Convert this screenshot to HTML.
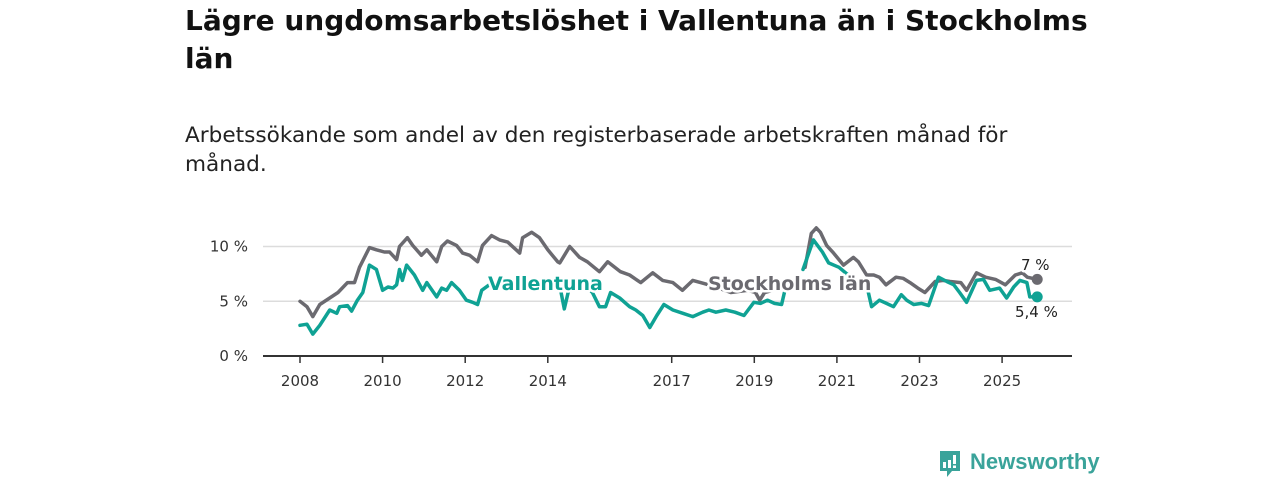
<!DOCTYPE html>
<html><head><meta charset="utf-8">
<style>
body{margin:0;width:1280px;height:480px;background:#fff;font-family:"DejaVu Sans","Liberation Sans",sans-serif;overflow:hidden;position:relative}
h1{position:absolute;left:185px;top:2px;margin:0;font-size:28px;line-height:38px;font-weight:bold;color:#111;white-space:nowrap}
.sub{position:absolute;left:185px;top:121px;font-size:21.6px;line-height:29px;color:#222;white-space:nowrap}
svg{position:absolute;left:0;top:0}
</style></head><body>
<h1>Lägre ungdomsarbetslöshet i Vallentuna än i Stockholms<br>län</h1>
<div class="sub">Arbetssökande som andel av den registerbaserade arbetskraften månad för<br>månad.</div>
<svg id="chart" width="1280" height="480"></svg>
<script>
const sthlmX=[2008.0,2008.17,2008.31,2008.48,2008.72,2008.92,2009.15,2009.32,2009.44,2009.68,2009.85,2010.04,2010.17,2010.34,2010.41,2010.6,2010.73,2010.94,2011.07,2011.31,2011.43,2011.57,2011.79,2011.94,2012.11,2012.3,2012.42,2012.64,2012.83,2013.03,2013.32,2013.39,2013.61,2013.8,2014.0,2014.24,2014.29,2014.53,2014.77,2014.96,2015.25,2015.45,2015.76,2015.98,2016.25,2016.54,2016.78,2017.03,2017.26,2017.51,2017.7,2017.99,2018.43,2018.84,2019.03,2019.13,2019.25,2019.45];
const sthlmV=[5.0,4.5,3.6,4.7,5.3,5.8,6.7,6.7,8.1,9.9,9.7,9.5,9.5,8.8,10.0,10.8,10.1,9.2,9.7,8.6,10.0,10.5,10.1,9.4,9.2,8.6,10.1,11.0,10.6,10.4,9.4,10.8,11.3,10.8,9.7,8.6,8.5,10.0,9.0,8.6,7.7,8.6,7.7,7.4,6.7,7.6,6.9,6.7,6.0,6.9,6.7,6.4,5.8,6.0,5.8,5.1,5.8,6.0];
const sthlmX2=[2020.23,2020.38,2020.5,2020.6,2020.75,2020.92,2021.16,2021.4,2021.52,2021.72,2021.89,2022.03,2022.19,2022.43,2022.6,2022.77,2022.96,2023.13,2023.38,2023.57,2023.74,2024.0,2024.14,2024.38,2024.6,2024.84,2025.08,2025.32,2025.49,2025.61,2025.85];
const sthlmV2=[8.1,11.2,11.7,11.3,10.1,9.4,8.3,9.0,8.6,7.4,7.4,7.2,6.5,7.2,7.1,6.7,6.2,5.8,6.8,6.9,6.8,6.7,6.0,7.6,7.2,7.0,6.5,7.4,7.6,7.2,7.0];
const vallX=[2008.0,2008.17,2008.31,2008.48,2008.72,2008.89,2008.96,2009.15,2009.25,2009.39,2009.52,2009.68,2009.85,2010.0,2010.13,2010.25,2010.34,2010.41,2010.48,2010.58,2010.77,2010.97,2011.07,2011.31,2011.43,2011.55,2011.67,2011.86,2012.03,2012.18,2012.3,2012.4,2012.62,2013.0,2013.5,2013.9,2014.29,2014.4,2014.53,2014.9,2015.08,2015.25,2015.4,2015.52,2015.74,2015.98,2016.13,2016.3,2016.47,2016.64,2016.81,2017.03,2017.27,2017.51,2017.75,2017.9,2018.07,2018.31,2018.53,2018.75,2018.99,2019.15,2019.32,2019.49,2019.66,2019.73];
const vallV=[2.8,2.9,2.0,2.8,4.2,3.9,4.5,4.6,4.1,5.1,5.8,8.3,7.9,6.0,6.3,6.2,6.5,7.9,6.9,8.3,7.4,6.0,6.7,5.4,6.2,6.0,6.7,6.0,5.1,4.9,4.7,6.0,6.6,6.6,6.6,6.5,6.4,4.3,6.4,6.5,5.8,4.5,4.5,5.8,5.3,4.5,4.2,3.7,2.6,3.7,4.7,4.2,3.9,3.6,4.0,4.2,4.0,4.2,4.0,3.7,4.9,4.8,5.1,4.8,4.7,5.8];
const vallX2=[2020.18,2020.43,2020.65,2020.8,2021.05,2021.4,2021.72,2021.84,2022.03,2022.2,2022.37,2022.56,2022.69,2022.86,2023.05,2023.22,2023.46,2023.66,2023.83,2023.97,2024.14,2024.38,2024.55,2024.7,2024.94,2025.11,2025.28,2025.43,2025.6,2025.67,2025.85];
const vallV2=[7.9,10.6,9.5,8.5,8.1,7.0,6.5,4.5,5.1,4.8,4.5,5.6,5.1,4.7,4.8,4.6,7.2,6.8,6.5,5.8,4.9,6.9,7.0,6.0,6.2,5.3,6.3,6.9,6.7,5.4,5.4];
const yTicks=[0,5,10];
const yTickLabels=["0 %","5 %","10 %"];
const xTicks=[2008,2010,2012,2014,2017,2019,2021,2023,2025];

const svg=document.getElementById('chart');
const NS='http://www.w3.org/2000/svg';
const X=t=>300+(t-2008)*41.3;
const Y=v=>356-v*10.95;
function mk(tag,attrs,parent){const e=document.createElementNS(NS,tag);for(const k in attrs)e.setAttribute(k,attrs[k]);(parent||svg).appendChild(e);return e;}
yTicks.forEach((v,i)=>{
  if(v>0){const g=mk('line',{x1:263,x2:1072,y1:Y(v),y2:Y(v),stroke:'#dcdcdc','stroke-width':1.5});
  
  }
  const t=mk('text',{x:248,y:Y(v)+5,'text-anchor':'end','font-size':15,fill:'#333'});
  t.textContent=yTickLabels[i];
  
  
});
const ax=mk('line',{x1:263,x2:1072,y1:356,y2:356,stroke:'#333','stroke-width':2});


xTicks.forEach(yr=>{
  mk('line',{x1:X(yr),x2:X(yr),y1:356,y2:363,stroke:'#333','stroke-width':1.5});
  const t=mk('text',{x:X(yr),y:386,'text-anchor':'middle','font-size':15,fill:'#333'});
  t.textContent=yr;
  
  
});
function line(xs,vs,color,name){
  const d=xs.map((t,i)=>(i?'L':'M')+X(t).toFixed(1)+','+Y(vs[i]).toFixed(1)).join('');
  const p=mk('path',{d:d,fill:'none',stroke:color,'stroke-width':3.5,'stroke-linejoin':'round','stroke-linecap':'round'});
  
  
}
const G='#6b6a70',T='#0fa294';
line(sthlmX,sthlmV,G,'stockholm-line');
line(sthlmX2,sthlmV2,G,'stockholm-line');
line(vallX,vallV,T,'vallentuna-line');
line(vallX2,vallV2,T,'vallentuna-line');
const d1=mk('circle',{cx:X(sthlmX2[sthlmX2.length-1]),cy:Y(sthlmV2[sthlmV2.length-1]),r:5.5,fill:G});


const d2=mk('circle',{cx:X(vallX2[vallX2.length-1]),cy:Y(vallV2[vallV2.length-1]),r:5.5,fill:T});


function lbl(x,y,txt,color,size,weight,name){
  const t=mk('text',{x:x,y:y,'font-size':size,'font-weight':weight,fill:color,stroke:'#fff','stroke-width':5,'paint-order':'stroke','stroke-linejoin':'round'});
  t.textContent=txt;
  
  
}
lbl(488,290,'Vallentuna',T,19,'bold','vallentuna-label');
lbl(708,290,'Stockholms län',G,19,'bold','stockholm-label');
lbl(1021,270,'7 %','#222',15,'normal','stockholm-end-value');
lbl(1015,317,'5,4 %','#222',15,'normal','vallentuna-end-value');
</script>
<div style="position:absolute;left:938px;top:449px;display:flex;align-items:center">
  <svg width="24" height="32" viewBox="0 0 24 32" style="position:static"><path d="M2 2h20v20H14l-5 6v-6H2z" fill="#3aa39a"/><rect x="5" y="13" width="3" height="6" fill="#fff"/><rect x="10" y="11" width="3" height="8" fill="#fff"/><rect x="15" y="6" width="3" height="9" fill="#fff"/><rect x="15" y="16.5" width="3" height="2.5" fill="#fff"/></svg>
  <span style="margin-left:8px;font-family:'Liberation Sans',sans-serif;font-size:22px;font-weight:bold;color:#3aa39a;margin-top:-6px">Newsworthy</span>
</div>
</body></html>
